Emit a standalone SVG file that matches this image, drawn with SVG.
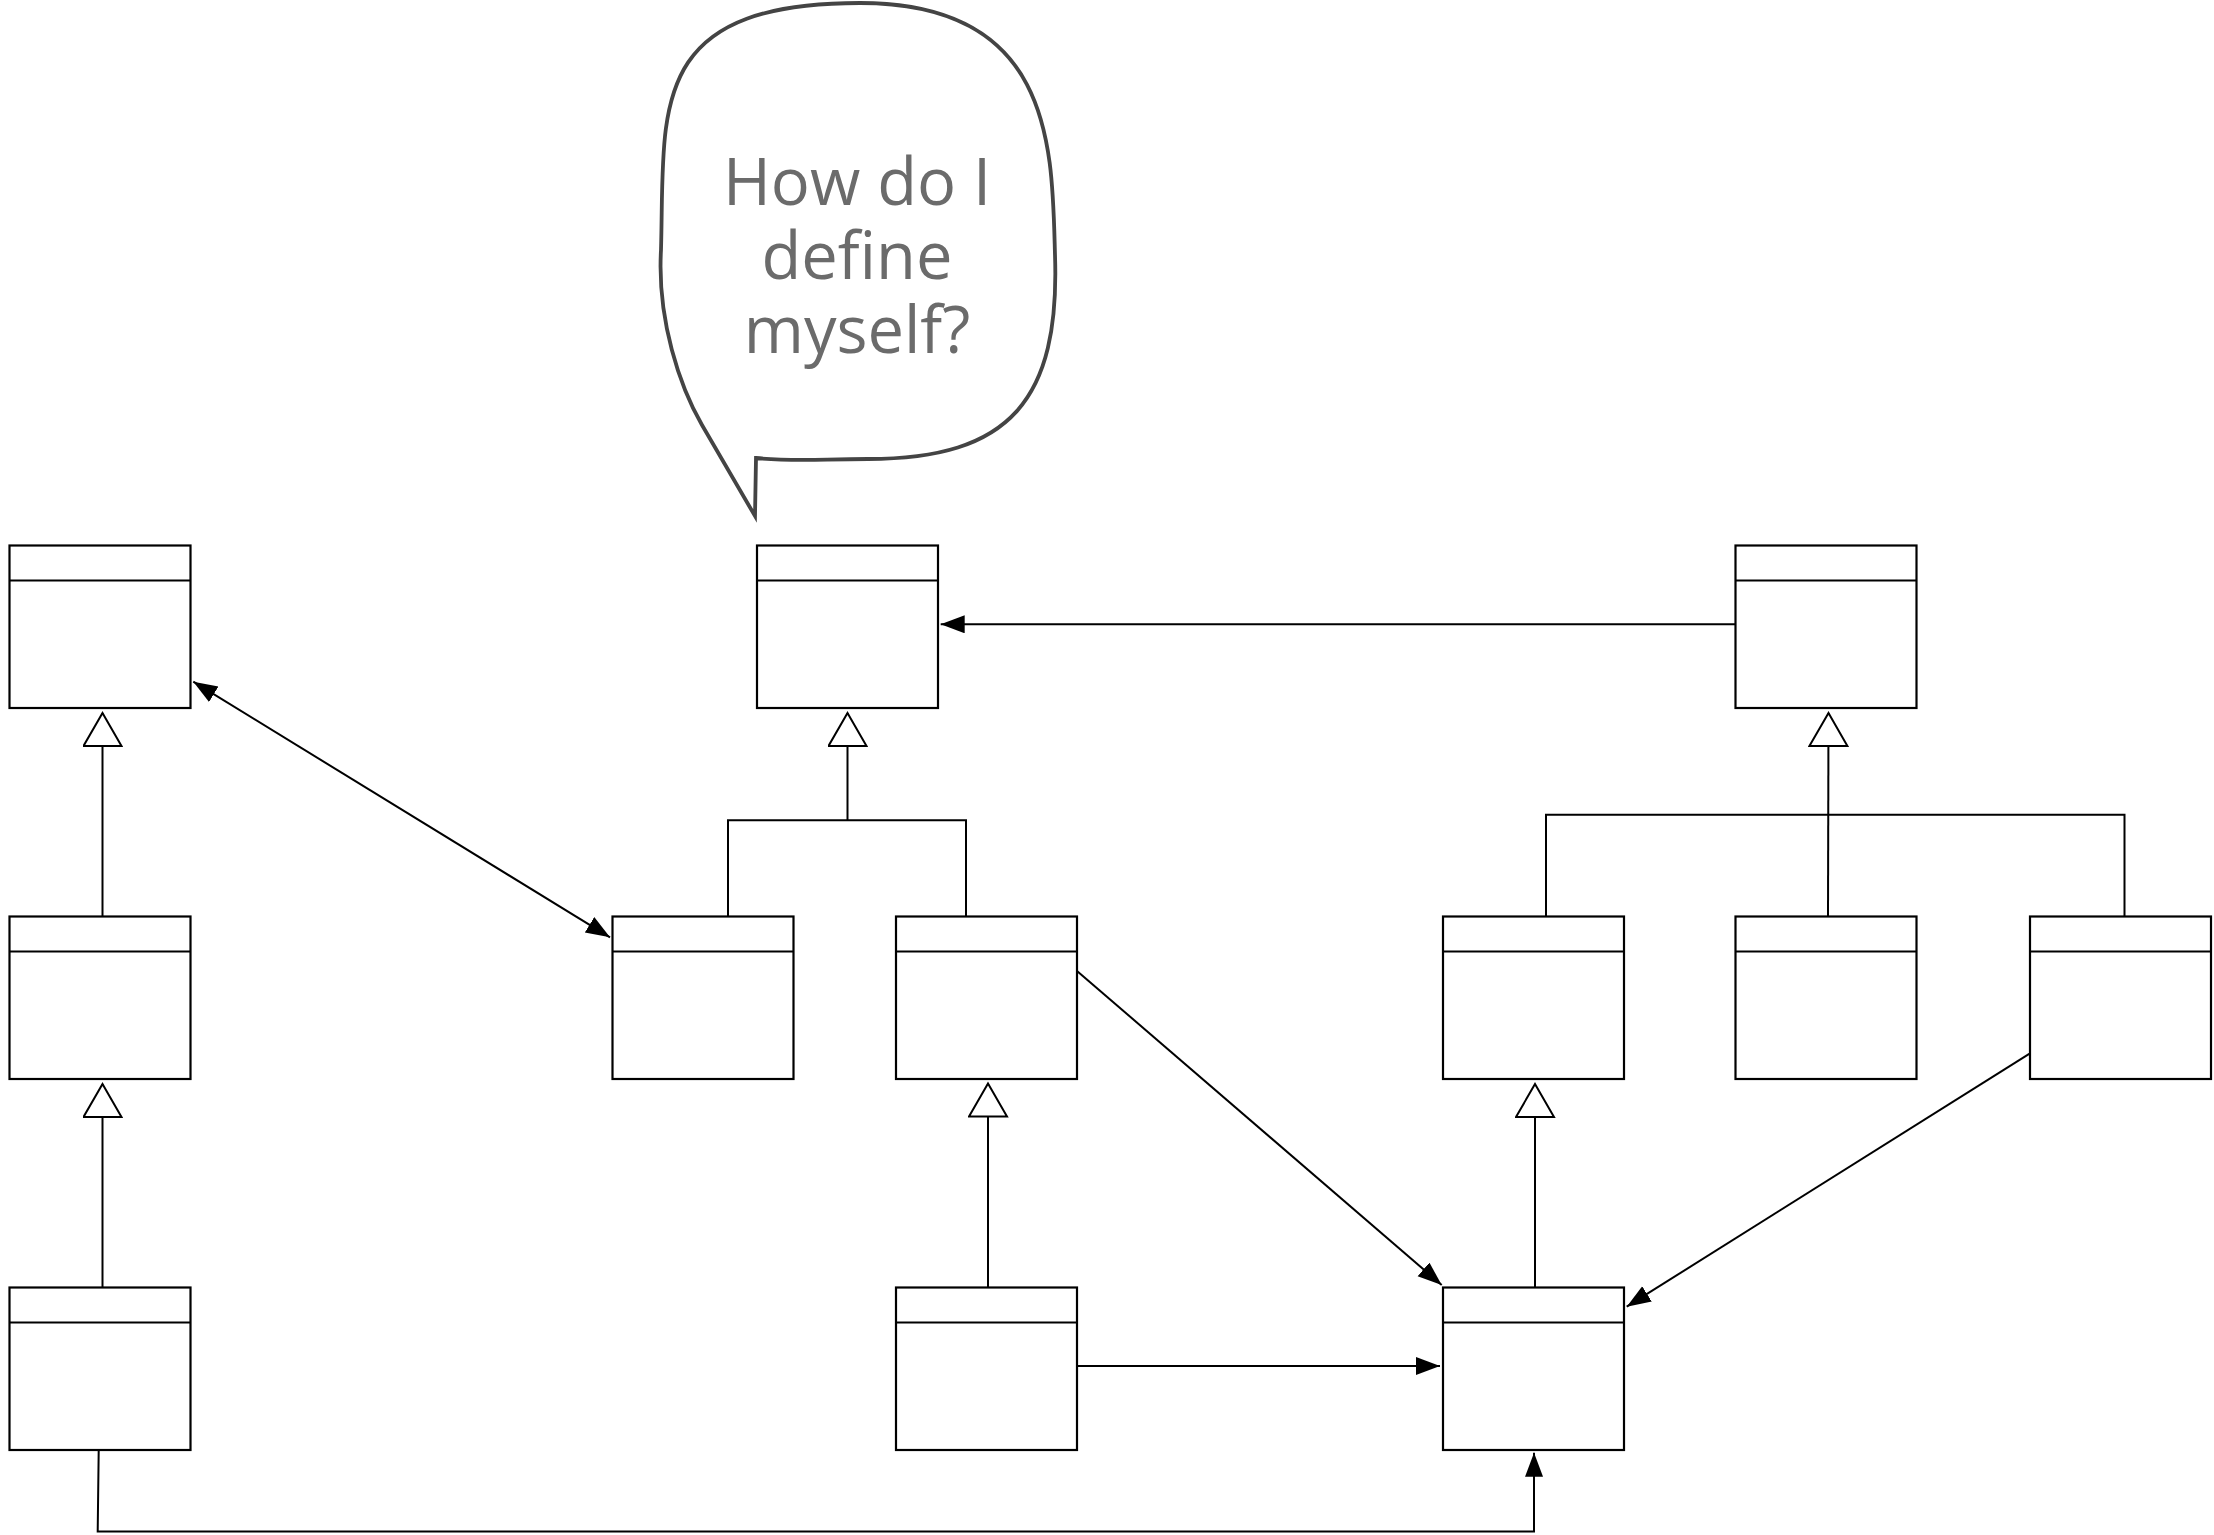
<svg xmlns="http://www.w3.org/2000/svg" width="2214" height="1535" viewBox="0 0 2214 1535">
<style>
.box{fill:#fff;stroke:#000;stroke-width:2.2}
.hdr{stroke:#000;stroke-width:2.2;fill:none}
.con{fill:none;stroke:#000;stroke-width:2}
.bubble{fill:#fff;stroke:#444;stroke-width:3.8;stroke-linejoin:miter}
.txt{font-family:"Open Sans","Noto Sans","DejaVu Sans",sans-serif;font-size:65px;fill:#6b6b6b;text-anchor:middle}
</style>
<defs>
<marker id="arr" markerUnits="userSpaceOnUse" markerWidth="26" markerHeight="20" refX="24" refY="9" orient="auto-start-reverse" viewBox="0 0 26 20">
<path d="M0,0 L24,9 L0,18 z" fill="#000"/>
</marker>
<marker id="gen" markerUnits="userSpaceOnUse" markerWidth="40" markerHeight="44" refX="34" refY="20" orient="auto" viewBox="0 0 40 44">
<path d="M1,1 L34,20 L1,39 z" fill="#fff" stroke="#000" stroke-width="2"/>
</marker>
</defs>
<rect width="2214" height="1535" fill="#fff"/>

<g id="bubble">
<path class="bubble" d="M661,250 C665,110 645,3 860,3 C1055,3 1052,150 1055,255 C1060,400 1010,459 868,459 C820,459 795,462 756,458 L755,516 L702,425 C680,387 657,320 661,250 Z"/>
<text class="txt" x="857" y="205">How do I</text>
<text class="txt" x="857" y="279">define</text>
<text class="txt" x="857" y="353">myself?</text>
</g>

<g id="connectors">
<line class="con" x1="102.5" y1="916.5" x2="102.5" y2="713" marker-end="url(#gen)"/>
<line class="con" x1="102.5" y1="1287.5" x2="102.5" y2="1084" marker-end="url(#gen)"/>
<polyline class="con" points="728,916.5 728,820.3 966,820.3 966,916.5"/>
<line class="con" x1="847.5" y1="820.3" x2="847.5" y2="713" marker-end="url(#gen)"/>
<polyline class="con" points="1546,916.5 1546,814.7 2124.5,814.7 2124.5,916.5"/>
<line class="con" x1="1828" y1="916.5" x2="1828.5" y2="713" marker-end="url(#gen)"/>
<line class="con" x1="988" y1="1287.5" x2="988" y2="1083.5" marker-end="url(#gen)"/>
<line class="con" x1="1535" y1="1287.5" x2="1535" y2="1084" marker-end="url(#gen)"/>
<line class="con" x1="1735.5" y1="624.3" x2="940.7" y2="624.3" marker-end="url(#arr)"/>
<line class="con" x1="193.3" y1="681.7" x2="610" y2="937.3" marker-start="url(#arr)" marker-end="url(#arr)"/>
<line class="con" x1="1076.7" y1="970.7" x2="1441.7" y2="1285" marker-end="url(#arr)"/>
<line class="con" x1="2030" y1="1053.3" x2="1626.7" y2="1306.7" marker-end="url(#arr)"/>
<line class="con" x1="1076.5" y1="1366" x2="1440" y2="1366" marker-end="url(#arr)"/>
<polyline class="con" points="98.7,1450 97.7,1531.5 1534,1531.5 1534,1452.7" marker-end="url(#arr)"/>
</g>

<g id="nodeA"><rect class="box" x="9.5" y="545.5" width="181" height="162.5"/><line class="hdr" x1="9.5" y1="580.5" x2="190.5" y2="580.5"/></g>
<g id="nodeB"><rect class="box" x="757" y="545.5" width="181" height="162.5"/><line class="hdr" x1="757" y1="580.5" x2="938" y2="580.5"/></g>
<g id="nodeC"><rect class="box" x="1735.5" y="545.5" width="181" height="162.5"/><line class="hdr" x1="1735.5" y1="580.5" x2="1916.5" y2="580.5"/></g>

<g id="nodeD"><rect class="box" x="9.5" y="916.5" width="181" height="162.5"/><line class="hdr" x1="9.5" y1="951.5" x2="190.5" y2="951.5"/></g>
<g id="nodeE"><rect class="box" x="612.5" y="916.5" width="181" height="162.5"/><line class="hdr" x1="612.5" y1="951.5" x2="793.5" y2="951.5"/></g>
<g id="nodeF"><rect class="box" x="896" y="916.5" width="181" height="162.5"/><line class="hdr" x1="896" y1="951.5" x2="1077" y2="951.5"/></g>
<g id="nodeG"><rect class="box" x="1443" y="916.5" width="181" height="162.5"/><line class="hdr" x1="1443" y1="951.5" x2="1624" y2="951.5"/></g>
<g id="nodeH"><rect class="box" x="1735.5" y="916.5" width="181" height="162.5"/><line class="hdr" x1="1735.5" y1="951.5" x2="1916.5" y2="951.5"/></g>
<g id="nodeI"><rect class="box" x="2030" y="916.5" width="181" height="162.5"/><line class="hdr" x1="2030" y1="951.5" x2="2211" y2="951.5"/></g>

<g id="nodeJ"><rect class="box" x="9.5" y="1287.5" width="181" height="162.5"/><line class="hdr" x1="9.5" y1="1322.5" x2="190.5" y2="1322.5"/></g>
<g id="nodeK"><rect class="box" x="896" y="1287.5" width="181" height="162.5"/><line class="hdr" x1="896" y1="1322.5" x2="1077" y2="1322.5"/></g>
<g id="nodeL"><rect class="box" x="1443" y="1287.5" width="181" height="162.5"/><line class="hdr" x1="1443" y1="1322.5" x2="1624" y2="1322.5"/></g>
</svg>
